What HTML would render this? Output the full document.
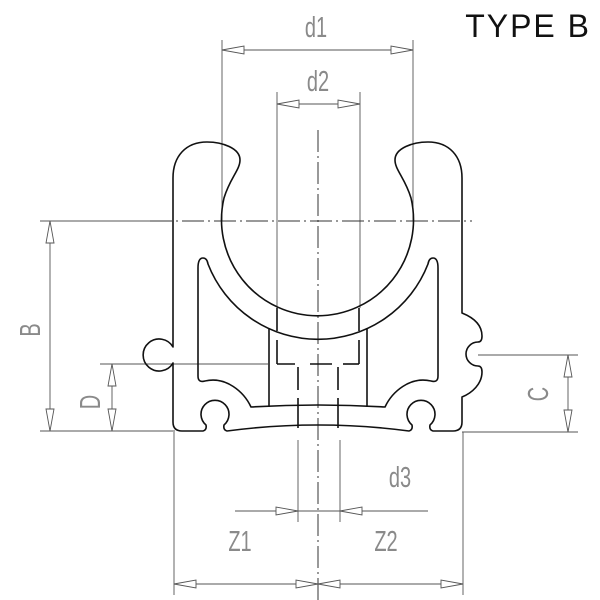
<!DOCTYPE html>
<html><head><meta charset="utf-8"><style>
html,body{margin:0;padding:0;background:#fff;width:600px;height:600px;overflow:hidden}
svg{display:block}
.t{font-family:"Liberation Sans",sans-serif;fill:#8a8a8a;font-size:25px}
</style></head><body>
<svg width="600" height="600" viewBox="0 0 600 600" xmlns="http://www.w3.org/2000/svg">
<rect width="600" height="600" fill="#fff"/>
<g stroke="#555" stroke-width="0.9" fill="none">
<line x1="222" y1="40" x2="222" y2="221"/>
<line x1="413" y1="40" x2="413" y2="221"/>
<line x1="277" y1="92" x2="277" y2="308"/>
<line x1="360" y1="92" x2="360" y2="308"/>
<line x1="222" y1="50" x2="413" y2="50"/>
<line x1="277" y1="104" x2="360" y2="104"/>
<line x1="40" y1="221" x2="152" y2="221"/>
<line x1="40" y1="431" x2="175" y2="431"/>
<line x1="100" y1="364" x2="268" y2="364"/>
<line x1="50" y1="221" x2="50" y2="431"/>
<line x1="112" y1="364" x2="112" y2="431"/>
<line x1="478" y1="355" x2="578" y2="355"/>
<line x1="462" y1="432" x2="578" y2="432"/>
<line x1="568" y1="355" x2="568" y2="432"/>
<line x1="174" y1="432" x2="174" y2="595"/>
<line x1="463" y1="432" x2="463" y2="595"/>
<line x1="298" y1="440" x2="298" y2="522"/>
<line x1="340" y1="440" x2="340" y2="522"/>
<line x1="235" y1="511" x2="428" y2="511"/>
<line x1="174" y1="584" x2="463" y2="584"/>
</g>
<g stroke="#333" stroke-width="1" fill="none" stroke-dasharray="22,4,2,4">
<line x1="318" y1="130" x2="318" y2="600"/>
<line x1="150" y1="221" x2="472" y2="221"/>
</g>
<g stroke="#555" stroke-width="0.9" fill="#fff">
<polygon points="222,50 244,46 244,54"/>
<polygon points="413,50 391,46 391,54"/>
<polygon points="277,104 299,100 299,108"/>
<polygon points="360,104 338,100 338,108"/>
<polygon points="298,511 276,507 276,515"/>
<polygon points="340,511 362,507 362,515"/>
<polygon points="174,584 196,580 196,588"/>
<polygon points="318,584 296,580 296,588"/>
<polygon points="318,584 340,580 340,588"/>
<polygon points="463,584 441,580 441,588"/>
<polygon points="50,221 46,243 54,243"/>
<polygon points="50,431 46,409 54,409"/>
<polygon points="112,364 108,386 116,386"/>
<polygon points="112,431 108,409 116,409"/>
<polygon points="568,355 564,377 572,377"/>
<polygon points="568,432 564,410 572,410"/>
</g>
<g stroke="#111" stroke-width="1.6" fill="none" stroke-linejoin="round">
<path d="M224,198 C230,178 240,170 240,160 C240,148 222,142 207,142 C186,142 173,156 173,178 L173,347 A16,16 0 1,0 173,363 L173,422 Q173,431 182,431 L203,431 Q207,430 206,425 A14,14 0 1,1 224,425 Q223,430 227,431 Q318,419 409,431 Q413,430 412,425 A14,14 0 1,1 430,425 Q429,430 433,431 L453,431 Q462,431 462,422 L462,397 C472,393 482,384 482,372 Q482,366 478,366 A12,12 0 1,1 478,342 Q482,342 482,336 C482,324 472,317 462,313 L462,178 C462,156 449,142 428,142 C413,142 395,148 395,160 C395,170 405,178 411,198 A96,96 0 1,1 224,198 Z"/>
<path d="M198,268 Q198,258 203,258 Q207,258 208,264 A118,118 0 0,0 428,264 Q429,258 433,258 Q438,258 438,268 L438,376 Q438,383 431,381 C410,376 392,392 385,407 Q318,403 251,407 C244,392 226,376 205,381 Q198,383 198,376 Z"/>
<line x1="269" y1="328" x2="269" y2="407"/>
<line x1="367" y1="328" x2="367" y2="407"/>
<line x1="277" y1="308" x2="277" y2="331"/>
<line x1="359" y1="308" x2="359" y2="331"/>
<line x1="277" y1="340" x2="277" y2="364"/>
<line x1="359" y1="340" x2="359" y2="364"/>
<line x1="277" y1="364" x2="295" y2="364"/>
<line x1="310" y1="364" x2="332" y2="364"/>
<line x1="343" y1="364" x2="359" y2="364"/>
<line x1="298" y1="367" x2="298" y2="390"/>
<line x1="298" y1="398" x2="298" y2="428"/>
<line x1="338" y1="367" x2="338" y2="390"/>
<line x1="338" y1="398" x2="338" y2="428"/>
</g>
<text class="t" transform="translate(316,37) scale(0.8,1.15)" text-anchor="middle">d1</text>
<text class="t" transform="translate(318,91) scale(0.8,1.15)" text-anchor="middle">d2</text>
<text class="t" transform="translate(400,487) scale(0.8,1.15)" text-anchor="middle">d3</text>
<text class="t" transform="translate(240,551) scale(0.8,1.15)" text-anchor="middle">Z1</text>
<text class="t" transform="translate(386,551) scale(0.8,1.15)" text-anchor="middle">Z2</text>
<text class="t" text-anchor="middle" transform="translate(40,330) rotate(-90) scale(0.8,1.15)">B</text>
<text class="t" text-anchor="middle" transform="translate(100,402) rotate(-90) scale(0.8,1.15)">D</text>
<text class="t" text-anchor="middle" transform="translate(548,394) rotate(-90) scale(0.8,1.15)">C</text>
<text x="591" y="37" text-anchor="end" font-family="Liberation Sans, sans-serif" font-size="32" fill="#111" letter-spacing="2">TYPE B</text>
</svg>
</body></html>
